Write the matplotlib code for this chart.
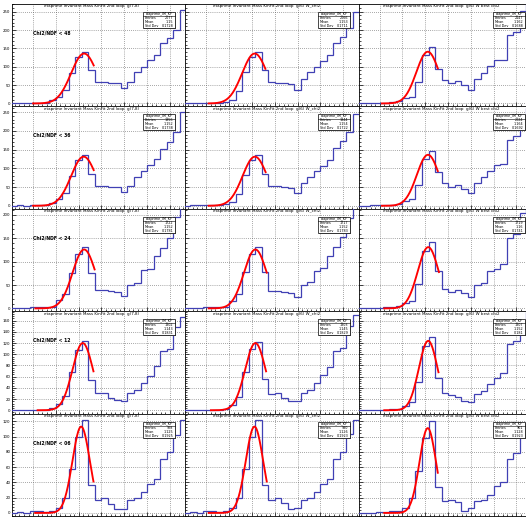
import numpy as np
import matplotlib
matplotlib.use("Agg")
import matplotlib.pyplot as plt
from matplotlib.ticker import MultipleLocator, AutoMinorLocator
from matplotlib.patches import Rectangle

# ---------------- data ----------------
bin_lo, bin_hi, n_bins_full = 0.60, 1.40, 28
x_view = (0.6075, 1.368)

titles = [
    "etaprime Invariant Mass KinFit 2nd loop  g(7,8)",
    "etaprime Invariant Mass KinFit 2nd loop  g(6) W_chi2",
    "etaprime Invariant Mass KinFit 2nd loop  g(6) W best chi2",
]
chi2_labels = ["Chi2/NDF < 48", "Chi2/NDF < 36", "Chi2/NDF < 24",
               "Chi2/NDF < 12", "Chi2/NDF < 06"]
stats_header = "etaprime_IM_KF"

row_ylim = [(-8, 271), (-8, 265), (-6, 213), (-6, 177), (-4, 130)]
row_major = [50, 50, 50, 20, 20]

counts_48_c1 = [0, 1, 0, 2, 2, 2, 9, 18, 36, 84, 127, 141, 91, 59, 59, 55, 56, 41, 59, 86, 100, 118, 132, 165, 179, 200, 255]
counts_48_c2 = [0, 1, 1, 1, 2, 2, 4, 10, 35, 86, 127, 141, 91, 59, 57, 55, 53, 38, 68, 86, 100, 115, 132, 165, 182, 205, 250]
counts_48_c3 = [0, 0, 1, 1, 2, 3, 6, 14, 18, 59, 132, 153, 95, 65, 55, 61, 50, 38, 68, 84, 102, 118, 118, 186, 195, 253, 270]

counts_36_c1 = [0, 1, 0, 2, 2, 2, 7, 17, 33, 80, 122, 136, 86, 54, 53, 50, 50, 37, 54, 78, 92, 108, 124, 152, 170, 196, 250]
counts_36_c2 = [0, 1, 1, 1, 2, 2, 4, 9, 32, 82, 122, 135, 86, 54, 52, 50, 48, 34, 62, 78, 92, 106, 122, 154, 172, 198, 245]
counts_36_c3 = [0, 0, 1, 1, 2, 3, 5, 12, 17, 55, 126, 147, 90, 60, 50, 55, 46, 35, 62, 77, 94, 110, 112, 176, 186, 240, 262]

counts_24_c1 = [0, 1, 0, 3, 2, 3, 4, 18, 30, 76, 116, 132, 76, 39, 39, 37, 34, 26, 51, 55, 82, 84, 113, 130, 150, 196, 225]
counts_24_c2 = [0, 1, 1, 2, 2, 3, 4, 16, 31, 78, 117, 131, 78, 38, 37, 36, 33, 25, 50, 56, 80, 86, 112, 132, 152, 194, 222]
counts_24_c3 = [0, 0, 1, 1, 2, 3, 5, 11, 16, 52, 122, 142, 80, 42, 36, 40, 32, 25, 50, 54, 80, 84, 96, 150, 160, 205, 230]

counts_12_c1 = [0, 0, 1, 1, 1, 1, 4, 11, 25, 68, 108, 123, 54, 30, 31, 21, 18, 17, 30, 37, 48, 62, 79, 106, 110, 149, 167]
counts_12_c2 = [0, 0, 1, 1, 1, 1, 3, 10, 24, 69, 109, 122, 55, 29, 30, 22, 17, 16, 31, 36, 48, 63, 78, 105, 112, 150, 170]
counts_12_c3 = [0, 0, 1, 1, 1, 2, 3, 8, 14, 50, 114, 130, 58, 30, 28, 24, 16, 15, 29, 35, 47, 58, 66, 118, 124, 160, 175]

counts_06_c1 = [0, 1, 0, 2, 2, 1, 3, 6, 19, 58, 100, 121, 36, 17, 20, 12, 5, 5, 17, 19, 28, 38, 45, 70, 80, 102, 121]
counts_06_c2 = [0, 1, 0, 2, 2, 1, 3, 6, 19, 57, 100, 121, 36, 17, 19, 13, 5, 6, 17, 19, 28, 38, 45, 70, 80, 103, 122]
counts_06_c3 = [0, 0, 0, 1, 1, 2, 2, 6, 20, 55, 98, 120, 34, 16, 17, 14, 3, 7, 16, 17, 24, 35, 41, 70, 79, 103, 120]

# gaussian fit parameters: amplitude, mean, sigma, range low, range high
fit_48 = [(136, 0.924, 0.057, 0.70, 0.966), (136, 0.912, 0.055, 0.71, 0.959), (141, 0.911, 0.050, 0.71, 0.955)]
fit_36 = [(131, 0.922, 0.055, 0.70, 0.966), (131, 0.913, 0.054, 0.71, 0.960), (136, 0.912, 0.049, 0.71, 0.955)]
fit_24 = [(126, 0.924, 0.0506, 0.71, 0.970), (126, 0.915, 0.050, 0.71, 0.965), (131, 0.913, 0.046, 0.72, 0.960)]
fit_12 = [(120, 0.918, 0.045, 0.72, 0.965), (120, 0.915, 0.045, 0.72, 0.962), (124, 0.913, 0.041, 0.72, 0.958)]
fit_06 = [(113, 0.911, 0.038, 0.709, 0.965), (113, 0.911, 0.038, 0.71, 0.965), (111, 0.911, 0.036, 0.72, 0.955)]

counts = [
    [counts_48_c1, counts_48_c2, counts_48_c3],
    [counts_36_c1, counts_36_c2, counts_36_c3],
    [counts_24_c1, counts_24_c2, counts_24_c3],
    [counts_12_c1, counts_12_c2, counts_12_c3],
    [counts_06_c1, counts_06_c2, counts_06_c3],
]
fits = [fit_48, fit_36, fit_24, fit_12, fit_06]

# ---------------- layout ----------------
W, H = 526, 518
fig = plt.figure(figsize=(W / 100, H / 100), dpi=100)
fig.patch.set_facecolor("white")

frame_left0, frame_w = 12.0, 173.3
frame_top0, frame_h = 4.0, 102.4
hist_color = "#4040b4"
all_edges = np.linspace(bin_lo, bin_hi, n_bins_full + 1)

for r in range(5):
    for c in range(3):
        lx = frame_left0 + frame_w * c
        ty = frame_top0 + frame_h * r
        ax = fig.add_axes([lx / W, 1 - (ty + frame_h) / H, frame_w / W, frame_h / H])
        ax.set_facecolor("white")
        vals = np.array(counts[r][c], dtype=float)
        edges = all_edges[: len(vals) + 1]
        ax.stairs(vals, edges, baseline=None, color=hist_color, lw=0.9, zorder=3)

        A, mu, sg, xa, xb = fits[r][c]
        xf = np.linspace(xa, xb, 200)
        ax.plot(xf, A * np.exp(-0.5 * ((xf - mu) / sg) ** 2), color="#ff0000", lw=1.35, zorder=4)

        ax.set_xlim(*x_view)
        ax.set_ylim(*row_ylim[r])
        ax.xaxis.set_major_locator(MultipleLocator(0.1))
        ax.xaxis.set_minor_locator(AutoMinorLocator(5))
        ax.yaxis.set_major_locator(MultipleLocator(row_major[r]))
        ax.yaxis.set_minor_locator(AutoMinorLocator(5))
        ax.grid(which="major", color="#555555", linestyle=(0, (1, 2)), linewidth=0.5, zorder=1)
        ax.tick_params(axis="both", which="both", direction="in", top=False, right=False,
                       labelbottom=False, width=0.5, colors="black")
        ax.tick_params(axis="both", which="major", length=3)
        ax.tick_params(axis="both", which="minor", length=1.5)
        ax.tick_params(axis="y", labelsize=2.8, pad=1.2, labelleft=(c == 0))
        for s in ax.spines.values():
            s.set_linewidth(0.6)
            s.set_color("black")

        # title
        tx = (87.5 + 4 + 175 * c - lx) / frame_w
        ax.text(tx, 1 - 2.3 / frame_h, titles[c], transform=ax.transAxes, ha="center",
                va="center", fontsize=2.9, color="black", zorder=6)

        # stats box
        centers = 0.5 * (edges[:-1] + edges[1:])
        n_ent = vals.sum()
        mean = (vals * centers).sum() / n_ent
        std = np.sqrt((vals * (centers - mean) ** 2).sum() / n_ent)
        bx0 = (143 + 175 * c - lx) / frame_w
        bx1 = (175 + 175 * c - lx) / frame_w
        by1 = 1 - 8 / frame_h
        by0 = 1 - 24 / frame_h
        ax.add_patch(Rectangle((bx0 + 0.005, by0 - 0.01), bx1 - bx0, by1 - by0,
                               transform=ax.transAxes, facecolor="#666666", edgecolor="none",
                               zorder=7, clip_on=False))
        ax.add_patch(Rectangle((bx0, by0), bx1 - bx0, by1 - by0, transform=ax.transAxes,
                               facecolor="white", edgecolor="black", lw=0.5, zorder=8,
                               clip_on=False))
        lh = (by1 - by0) / 4
        ax.plot([bx0, bx1], [by1 - lh * 1.05, by1 - lh * 1.05], transform=ax.transAxes,
                color="black", lw=0.4, zorder=9, clip_on=False)
        ax.text((bx0 + bx1) / 2, by1 - lh * 0.5, stats_header, transform=ax.transAxes,
                ha="center", va="center", fontsize=2.4, zorder=9)
        rows = [("Entries", f"{int(n_ent)}"), ("Mean", f"{mean:.4g}"), ("Std Dev", f"{std:.4g}")]
        for i, (k, v) in enumerate(rows):
            yy = by1 - lh * (1.5 + i)
            ax.text(bx0 + 0.01, yy, k, transform=ax.transAxes, ha="left", va="center",
                    fontsize=2.4, zorder=9)
            ax.text(bx1 - 0.01, yy, v, transform=ax.transAxes, ha="right", va="center",
                    fontsize=2.4, zorder=9)

        if c == 0:
            ax.text((33 - lx) / frame_w, 1 - 29 / frame_h, chi2_labels[r], transform=ax.transAxes,
                    ha="left", va="center", fontsize=3.3, fontweight="bold", zorder=6)

fig.savefig("out.png", dpi=100, facecolor="white")
